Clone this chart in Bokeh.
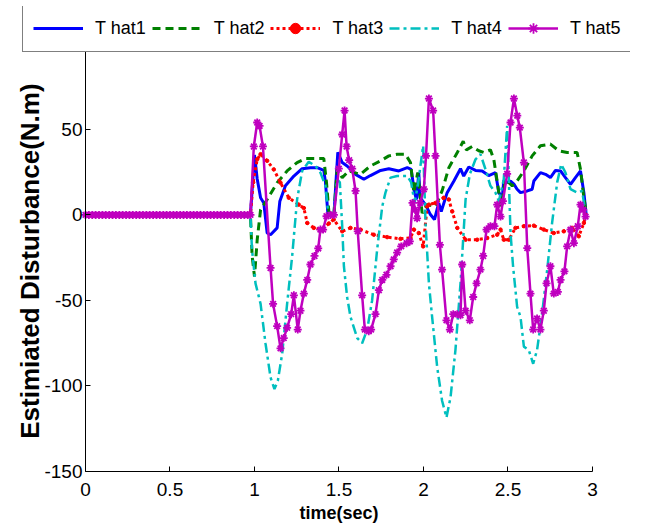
import math
from bokeh.plotting import figure
from bokeh.models import Range1d, FixedTicker, Legend, LegendItem, LinearAxis, Label
from bokeh.embed import file_html
from bokeh.resources import INLINE

# ---------------- data ----------------
T1_t = [0, 0.976, 1.0, 1.016, 1.036, 1.055, 1.075, 1.095, 1.134, 1.15, 1.183, 1.233, 1.282, 1.331, 1.371,
        1.41, 1.42, 1.434, 1.47, 1.493, 1.519, 1.548, 1.598, 1.647, 1.686, 1.746, 1.795, 1.854, 1.904, 1.927,
        1.947, 1.959, 1.972, 1.98, 2.012, 2.041, 2.065, 2.09, 2.105, 2.14, 2.18, 2.219, 2.238, 2.268, 2.308,
        2.347, 2.386, 2.426, 2.446, 2.466, 2.475, 2.495, 2.515, 2.535, 2.554, 2.574, 2.614, 2.643, 2.653,
        2.692, 2.722, 2.751, 2.781, 2.811, 2.84, 2.87, 2.899, 2.929, 2.949, 2.964]
T1_v = [0, 0, 35, 21, 10, 7, -10.6, -11.6, -7.6, 8, 17, 22.7, 27, 27.6, 27.6,
        26, 19, 1, 0, 36.5, 30.6, 28.6, 23.7, 20.8, 23, 26, 27, 25.7, 27.6, 26.6,
        13, 9, 24.7, 10, 6, 0.2, -2.7, 7, 2, 13, 19.8, 27, 22.7, 28, 26,
        25.7, 23, 24.7, 13, 10, 20, 19, 19.8, 18, 15, 13, 14, 15, 19.8,
        24.7, 23.7, 21.8, 26, 25.7, 21.8, 17.8, 21.8, 25.7, 13, -1]

T2_t = [0, 0.976, 0.986, 1.0, 1.016, 1.036, 1.075, 1.134, 1.193, 1.252, 1.302, 1.361, 1.41, 1.426, 1.44,
        1.47, 1.489, 1.519, 1.558, 1.627, 1.686, 1.746, 1.795, 1.844, 1.893, 1.923, 1.943, 1.966, 1.992,
        2.022, 2.071, 2.11, 2.15, 2.2, 2.235, 2.254, 2.288, 2.327, 2.357, 2.396, 2.416, 2.44, 2.456, 2.47,
        2.485, 2.525, 2.554, 2.594, 2.643, 2.692, 2.751, 2.8, 2.85, 2.909, 2.929, 2.949, 2.964]
T2_v = [0, 0, -24, -36, -14.5, 3, 9, 18.8, 25.7, 30.6, 33, 33, 33, 19, 2,
        0, 26.6, 21.8, 25.7, 23.7, 28.6, 31.6, 34.5, 35.5, 35.5, 30.6, 13, 24.7, 1,
        6, 5, 14, 27.6, 36.5, 43, 38, 40, 37.5, 36.5, 38, 32.5, 17, 5, 11,
        20.8, 17, 19.8, 25.7, 34.5, 40.4, 41.4, 37.5, 36.5, 36.5, 26.6, 10, 1]

T3_t = [0, 0.976, 0.992, 1.016, 1.036, 1.075, 1.114, 1.154, 1.203, 1.262, 1.292, 1.312, 1.351, 1.4, 1.44,
        1.469, 1.519, 1.568, 1.627, 1.706, 1.785, 1.864, 1.923, 1.943, 1.972, 1.998, 2.022, 2.032, 2.071,
        2.12, 2.15, 2.17, 2.2, 2.249, 2.318, 2.377, 2.436, 2.456, 2.475, 2.505, 2.544, 2.594, 2.653, 2.712,
        2.771, 2.83, 2.88, 2.919, 2.949, 2.96]
T3_v = [0, 0, 19, 32.5, 35.5, 31.6, 26.6, 18.8, 10, 6, 4, -4.7, -7.6, -8.6, -5,
        -2.7, -9.6, -7.6, -8.6, -11.6, -13, -14, -13.5, -8.6, -10.6, -18.4, 5, 6, 7,
        10, 9, 2, -7.6, -14.5, -14.5, -13.5, -11.6, -8.6, -14.5, -14.5, -7.6, -6.6, -6.3, -8.6,
        -10.6, -9.6, -7.6, -12.5, -4.7, 0]

T4_t = [0, 0.976, 0.985, 1.006, 1.036, 1.065, 1.095, 1.118, 1.138, 1.164, 1.193, 1.223, 1.252, 1.282, 1.321,
        1.361, 1.39, 1.42, 1.434, 1.45, 1.47, 1.489, 1.505, 1.519, 1.529, 1.548, 1.568, 1.608, 1.637, 1.667,
        1.696, 1.726, 1.756, 1.775, 1.805, 1.844, 1.904, 1.927, 1.947, 1.966, 1.998, 2.012, 2.032, 2.051,
        2.081, 2.11, 2.136, 2.16, 2.189, 2.219, 2.249, 2.274, 2.308, 2.337, 2.367, 2.396, 2.426, 2.446,
        2.475, 2.495, 2.515, 2.53, 2.554, 2.574, 2.594, 2.623, 2.649, 2.672, 2.702, 2.732, 2.761, 2.791,
        2.815, 2.84, 2.87, 2.909, 2.939, 2.96]
T4_v = [0, 0, -20, -40, -52, -75, -95, -101.8, -97, -81, -52, -24, 9, 25.7, 31,
        28.6, 24.7, 17, 3, 0, 0, 20.8, 19, -6.6, -30, -48, -59.6, -72, -75, -67,
        -50, -20, 5, 13, 21.8, 22.7, 22.7, 19, 7, 17, 40.4, -4.7, -40, -59.6,
        -89, -108.6, -118.4, -106.6, -79, -40, 9, 23.7, 32.5, 35.5, 26.6, 17, 13, 8,
        20.8, 52, -10.6, -30, -53.7, -59.6, -77, -79, -87, -79, -57.6, -32, -4.7, 19,
        29.6, 24.7, 15, 13, 14, 0]

T5_t = [0.00, 0.02, 0.04, 0.06, 0.08, 0.10, 0.12, 0.14, 0.16, 0.18, 0.20, 0.22, 0.24, 0.26, 0.28,
        0.30, 0.32, 0.34, 0.36, 0.38, 0.40, 0.42, 0.44, 0.46, 0.48, 0.50, 0.52, 0.54, 0.56, 0.58,
        0.60, 0.62, 0.64, 0.66, 0.68, 0.70, 0.72, 0.74, 0.76, 0.78, 0.80, 0.82, 0.84, 0.86, 0.88,
        0.90, 0.92, 0.94, 0.96, 0.976,
        0.996, 1.016, 1.03, 1.05, 1.095, 1.11, 1.134, 1.154, 1.173, 1.193, 1.217, 1.233, 1.256, 1.272,
        1.292, 1.312, 1.331, 1.355, 1.377, 1.39, 1.406, 1.426, 1.45, 1.47, 1.499, 1.519, 1.533, 1.545,
        1.56, 1.578, 1.598, 1.611, 1.637, 1.653, 1.676, 1.69, 1.716, 1.736, 1.756, 1.781, 1.805, 1.824,
        1.844, 1.868, 1.9, 1.919, 1.935, 1.95, 1.962, 1.98, 2.002, 2.015, 2.032, 2.057, 2.071, 2.097,
        2.11, 2.136, 2.156, 2.176, 2.2, 2.219, 2.229, 2.249, 2.274, 2.294, 2.314, 2.337, 2.353, 2.373,
        2.396, 2.42, 2.436, 2.456, 2.47, 2.495, 2.515, 2.535, 2.555, 2.57, 2.594, 2.614, 2.633, 2.649,
        2.672, 2.692, 2.712, 2.728, 2.751, 2.771, 2.795, 2.811, 2.834, 2.85, 2.87, 2.89, 2.913, 2.929,
        2.945, 2.959]
T5_v = [0, 0, 0, 0, 0, 0, 0, 0, 0, 0, 0, 0, 0, 0, 0,
        0, 0, 0, 0, 0, 0, 0, 0, 0, 0, 0, 0, 0, 0, 0,
        0, 0, 0, 0, 0, 0, 0, 0, 0, 0, 0, 0, 0, 0, 0,
        0, 0, 0, 0, 0,
        40, 54, 52, 40, -31, -52, -65, -78, -72, -66, -58, -47, -67, -56,
        -46, -38, -29, -24, -19.6, -8.6, -8.6, -0.8, 0, 0, 27, 47, 61, 40,
        32, 27, 14, -9.6, -47, -67, -68, -67, -58, -44, -38, -35, -30, -26,
        -22, -18.4, -16.5, -15.5, 7, 3, -2, 7, 15, 34.5, 68, 61, 34.5, -17.5,
        -32, -61.6, -67, -58, -58, -58.6, -29, -56, -61.6, -48, -40, -32, -24, -8.6,
        -6.6, -6.6, 6, -1, 8, 24, 54, 68, 58, 51, 30.6, -19.4, -46, -67,
        -60.6, -67, -56, -40, -30, -46, -45, -38, -33, -18.4, -8.6, -16.5, -6.6, 6,
        3, -1]

SERIES = ["T hat1", "T hat2", "T hat3", "T hat4", "T hat5"]
XTICKS = [0, 0.5, 1, 1.5, 2, 2.5, 3]
XTICK_LABELS = ["0", "0.5", "1", "1.5", "2", "2.5", "3"]
YTICKS = [-150, -100, -50, 0, 50]
YTICK_LABELS = ["-150", "-100", "-50", "0", "50"]
X_LIMITS = (0, 3)
Y_LIMITS = (-150, 100)
X_LABEL = "time(sec)"
Y_LABEL = "Estimiated Disturbance(N.m)"

FONT = "Liberation Sans"

# the frame spans the whole area; axes are pinned at x=0 / y=-150 inside it
p = figure(width=635, height=524, output_backend="svg", toolbar_location=None,
           x_axis_type=None, y_axis_type=None,
           x_range=Range1d(-0.4497, 3.2249), y_range=Range1d(-180.95, 121.8),
           min_border_left=9, min_border_right=5, min_border_top=6, min_border_bottom=0)
p.outline_line_color = None
p.grid.visible = False
p.background_fill_color = "white"
p.border_fill_color = "white"

xaxis = LinearAxis(fixed_location=Y_LIMITS[0], bounds=X_LIMITS, ticker=FixedTicker(ticks=XTICKS))
yaxis = LinearAxis(fixed_location=X_LIMITS[0], bounds=Y_LIMITS, ticker=FixedTicker(ticks=YTICKS))
xaxis.major_label_overrides = dict(zip(XTICKS, XTICK_LABELS))
yaxis.major_label_overrides = dict(zip(YTICKS, YTICK_LABELS))
for ax in (xaxis, yaxis):
    ax.axis_line_color = "black"
    ax.axis_line_width = 1
    ax.major_tick_in = 5
    ax.major_tick_out = 0
    ax.minor_tick_line_color = None
    ax.major_tick_line_color = "black"
    ax.major_label_text_font = FONT
    ax.major_label_text_font_size = "19px"
    ax.major_label_text_color = "black"
xaxis.major_label_standoff = 11
yaxis.major_label_standoff = 3
p.add_layout(xaxis, "below")
p.add_layout(yaxis, "left")

BLUE, GREEN, RED, CYAN, MAGENTA = "#0000FF", "#008000", "#FF0000", "#00BFBF", "#BF00BF"

r1 = p.line(T1_t, T1_v, line_color=BLUE, line_width=3)
r2 = p.line(T2_t, T2_v, line_color=GREEN, line_width=3, line_dash="8 5")
r3 = p.line(T3_t, T3_v, line_color=RED, line_width=3, line_dash="3 3")
r3m = p.scatter(T3_t, T3_v, marker="circle", size=3.5, fill_color=RED, line_color=RED)
r4 = p.line(T4_t, T4_v, line_color=CYAN, line_width=2.5, line_dash="10 4 3 4")
r5 = p.line(T5_t, T5_v, line_color=MAGENTA, line_width=2.5)
r5m = p.scatter(T5_t, T5_v, marker="asterisk", size=8, line_color=MAGENTA, line_width=1.8)

# axis titles
p.add_layout(Label(x=-0.331, y=-27, text=Y_LABEL, angle=math.pi / 2, text_align="center",
                   text_baseline="middle", text_font=FONT, text_font_size="26px",
                   text_font_style="bold", text_color="black"))
p.add_layout(Label(x=1.5, y=-174, text=X_LABEL, text_align="center",
                   text_baseline="middle", text_font=FONT, text_font_size="18px",
                   text_font_style="bold", text_color="black"))

legend = Legend(items=[
    LegendItem(label=SERIES[0], renderers=[r1]),
    LegendItem(label=SERIES[1], renderers=[r2]),
    LegendItem(label=SERIES[2], renderers=[r3, r3m]),
    LegendItem(label=SERIES[3], renderers=[r4]),
    LegendItem(label=SERIES[4], renderers=[r5, r5m]),
], orientation="horizontal", location=(13, 472))
legend.border_line_color = "black"
legend.border_line_width = 1
legend.background_fill_color = "white"
legend.background_fill_alpha = 1
legend.padding = 10
legend.spacing = 6
legend.margin = 0
legend.glyph_width = 50
legend.glyph_height = 26
legend.label_height = 26
legend.label_standoff = 12
legend.label_text_font = FONT
legend.label_text_font_size = "18px"
legend.label_text_color = "black"
legend.label_text_baseline = "middle"
p.add_layout(legend, "center")

open("out.html", "w").write(file_html(p, INLINE))
